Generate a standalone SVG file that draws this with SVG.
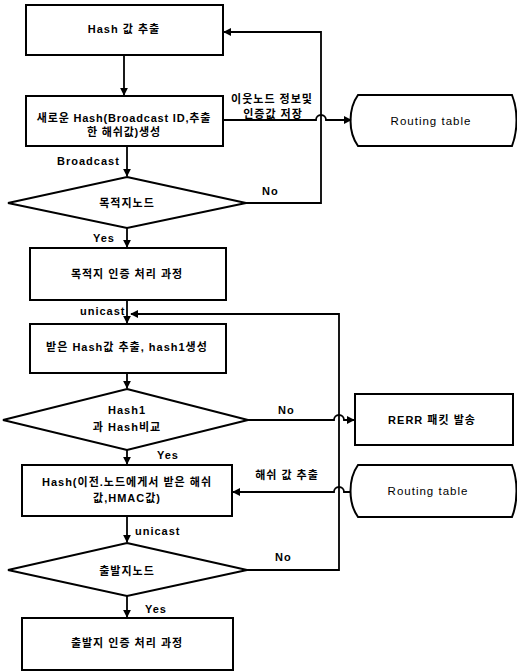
<svg xmlns="http://www.w3.org/2000/svg" width="517" height="671" viewBox="0 0 517 671">
<defs>
<style>
.n{fill:#fff;stroke:#000;stroke-width:2}
.c{fill:none;stroke:#000;stroke-width:1.8}
text{font-family:"Liberation Sans","Noto Sans CJK KR",sans-serif;font-size:11px;font-weight:bold;fill:#000;letter-spacing:1px}
.m{text-anchor:middle}
.l{font-size:11.5px;font-weight:normal;letter-spacing:1px}
.s{letter-spacing:0.8px}
</style>
<marker id="a" viewBox="0 0 10 10" refX="9" refY="5" markerWidth="4.5" markerHeight="4.5" orient="auto" markerUnits="strokeWidth">
<path d="M0,0 L10,5 L0,10 z" fill="#000"/>
</marker>
</defs>
<rect width="517" height="671" fill="#fff"/>
<g id="n1"><rect class="n" x="26" y="5" width="197" height="50"/><text class="m" x="124" y="33">Hash 값 추출</text></g>
<g id="n2"><rect class="n" x="26" y="96" width="197" height="50"/><text class="m s" x="124" y="122">새로운 Hash(Broadcast ID,추출</text><text class="m s" x="124" y="136">한 해쉬값)생성</text></g>
<g id="rt1"><path class="n" d="M358,95 L512,95 C518,110 518,130 512,146 L358,146 C348,132 348,109 358,95 z"/><text class="m l" x="431" y="125">Routing table</text></g>
<g id="d1"><path class="n" d="M127,177 L246,203 L127,228 L8,203 z"/><text class="m" x="127" y="207">목적지노드</text></g>
<g id="n3"><rect class="n" x="30" y="248" width="196" height="52"/><text class="m" x="127" y="278">목적지 인증 처리 과정</text></g>
<g id="n4"><rect class="n" x="30" y="324" width="196" height="49"/><text class="m" x="127" y="351">받은 Hash값 추출, hash1생성</text></g>
<g id="d2"><path class="n" d="M127,389 L248,420 L127,450 L3,420 z"/><text class="m" x="127" y="414">Hash1</text><text class="m" x="127" y="431">과 Hash비교</text></g>
<g id="rerr"><rect class="n" x="355" y="394" width="158" height="51"/><text class="m" x="432" y="424">RERR 패킷 발송</text></g>
<g id="n5"><rect class="n" x="22" y="465" width="210" height="51"/><text class="m" x="127" y="486">Hash(이전.노드에게서 받은 해쉬</text><text class="m" x="127" y="502">값,HMAC값)</text></g>
<g id="rt2"><path class="n" d="M358,465 L512,465 C518,480 518,502 512,517 L358,517 C348,503 348,479 358,465 z"/><text class="m l" x="428" y="495">Routing table</text></g>
<g id="d3"><path class="n" d="M127,543 L247,570 L127,596 L8,570 z"/><text class="m" x="127" y="575">출발지노드</text></g>
<g id="n6"><rect class="n" x="22" y="618" width="211" height="52"/><text class="m" x="127" y="647">출발지 인증 처리 과정</text></g>
<g id="connectors">
<path class="c" d="M124,55 L124,95" marker-end="url(#a)"/>
<path class="c" d="M223,120 L316,120 A5,5 0 0 1 326,120 L351,120" marker-end="url(#a)"/>
<path class="c" d="M127,146 L127,176" marker-end="url(#a)"/>
<path class="c" d="M246,203 L321,203 L321,32 L224,32" marker-end="url(#a)"/>
<path class="c" d="M127,228 L127,247" marker-end="url(#a)"/>
<path class="c" d="M127,300 L127,323" marker-end="url(#a)"/>
<path class="c" d="M247,570 L339,570 L339,314 L131,314" marker-end="url(#a)"/>
<path class="c" d="M127,373 L127,388" marker-end="url(#a)"/>
<path class="c" d="M248,420 L334,420 A5,5 0 0 1 344,420 L354,420" marker-end="url(#a)"/>
<path class="c" d="M127,450 L127,464" marker-end="url(#a)"/>
<path class="c" d="M350,492 L344,492 A5,5 0 0 0 334,492 L233,492" marker-end="url(#a)"/>
<path class="c" d="M127,516 L127,542" marker-end="url(#a)"/>
<path class="c" d="M127,596 L127,617" marker-end="url(#a)"/>
<text x="57" y="165">Broadcast</text>
<text class="m" x="272" y="103">이웃노드 정보및</text>
<text class="m" x="273" y="118">인증값 저장</text>
<text x="262" y="195">No</text>
<text x="93" y="242">Yes</text>
<text x="80" y="315">unicast</text>
<text x="278" y="414">No</text>
<text x="157" y="459">Yes</text>
<text class="m" x="287" y="479">해쉬 값 추출</text>
<text x="135" y="535">unicast</text>
<text x="275" y="561">No</text>
<text x="145" y="613">Yes</text>
</g>
</svg>
